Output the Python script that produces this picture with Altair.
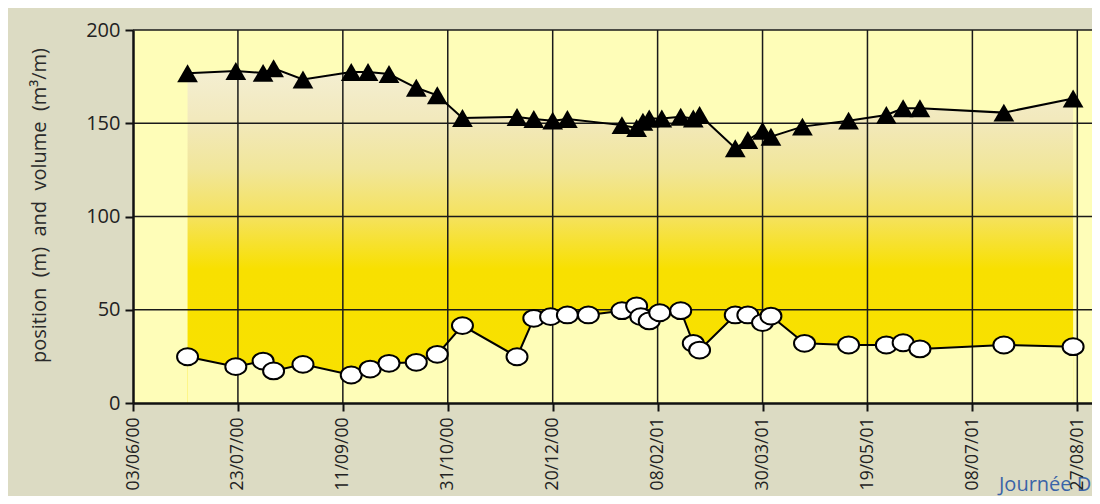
import altair as alt
import pandas as pd

# ---- data ----
tri_dates = ["2000-06-29", "2000-07-22", "2000-08-04", "2000-08-09", "2000-08-23",
             "2000-09-15", "2000-09-23", "2000-10-03", "2000-10-16", "2000-10-26",
             "2000-11-07", "2000-12-03", "2000-12-11", "2000-12-20", "2000-12-27",
             "2001-01-22", "2001-01-29", "2001-02-01", "2001-02-04", "2001-02-10",
             "2001-02-19", "2001-02-25", "2001-02-28", "2001-03-17", "2001-03-23",
             "2001-03-30", "2001-04-03", "2001-04-18", "2001-05-10", "2001-05-28",
             "2001-06-05", "2001-06-13", "2001-07-23", "2001-08-25"]
tri_vals = [176.8, 178.0, 177.0, 179.5, 173.5,
            177.5, 177.5, 176.4, 169.0, 165.0,
            152.8, 153.4, 152.3, 151.4, 152.3,
            149.0, 147.4, 150.8, 152.6, 152.6,
            153.5, 152.6, 154.4, 136.6, 141.0,
            146.0, 142.8, 148.2, 151.4, 154.4,
            158.0, 158.0, 155.7, 163.3]

circ_dates = ["2000-06-29", "2000-07-22", "2000-08-04", "2000-08-09", "2000-08-23",
              "2000-09-15", "2000-09-24", "2000-10-03", "2000-10-16", "2000-10-26",
              "2000-11-07", "2000-12-03", "2000-12-11", "2000-12-19", "2000-12-27",
              "2001-01-06", "2001-01-22", "2001-01-29", "2001-01-31", "2001-02-04",
              "2001-02-09", "2001-02-19", "2001-02-25", "2001-02-28", "2001-03-17",
              "2001-03-23", "2001-03-30", "2001-04-03", "2001-04-19", "2001-05-10",
              "2001-05-28", "2001-06-05", "2001-06-13", "2001-07-23", "2001-08-25"]
circ_vals = [24.8, 19.5, 22.5, 17.2, 20.7,
             15.0, 18.2, 21.3, 21.8, 26.1,
             41.5, 24.8, 45.4, 46.3, 47.2,
             47.2, 49.5, 52.0, 46.3, 44.0,
             48.4, 49.5, 32.0, 28.4, 47.2,
             47.2, 43.1, 46.6, 32.0, 31.1,
             31.1, 32.3, 29.0, 31.1, 30.2]

x_ticks = [(2000, 6, 3), (2000, 7, 23), (2000, 9, 11), (2000, 10, 31), (2000, 12, 20),
           (2001, 2, 8), (2001, 3, 30), (2001, 5, 19), (2001, 7, 8), (2001, 8, 27)]
y_ticks = [0, 50, 100, 150, 200]
x_domain = [(2000, 6, 3), (2001, 9, 3)]

NB = "\u00a0"
y_title = ("position" + NB * 2 + "(m)" + NB * 2 + "and" + NB * 2 + "volume"
           + NB * 2 + "(m\u00b3/m)")
footer = "Journée D"

# ---- tables ----
tri = pd.DataFrame({"date": [d + "T00:00:00" for d in tri_dates], "v": tri_vals})
circ = pd.DataFrame({"date": [d + "T00:00:00" for d in circ_dates], "v": circ_vals})
xgrid = pd.DataFrame({"date": ["%04d-%02d-%02dT00:00:00" % t for t in x_ticks[1:]]})
ygrid = pd.DataFrame({"v": y_ticks[1:]})

def dt(t):
    return alt.DateTime(year=t[0], month=t[1], date=t[2])

FONT = "Open Sans"
PLOT_BG = "#fefdb8"

xscale = alt.Scale(domain=[dt(t) for t in x_domain], nice=False)
yscale = alt.Scale(domain=[0, 200], nice=False)

xaxis = alt.Axis(values=[dt(t) for t in x_ticks], format="%d/%m/%y", labelAngle=-90,
                 grid=False, tickSize=8, tickWidth=2, tickColor="#111",
                 domainColor="#111", domainWidth=2.5, labelPadding=6,
                 labelFontSize=17.5, labelColor="#222", labelFont=FONT,
                 zindex=1, title=None, labelOverlap=False)
yaxis = alt.Axis(values=y_ticks, grid=False, tickSize=8, tickWidth=2, tickColor="#111",
                 domainColor="#111", domainWidth=2.5, labelPadding=5,
                 labelFontSize=20, labelColor="#222", labelFont=FONT, zindex=1,
                 title=y_title, titleFont=FONT, titleFontSize=20,
                 titleFontWeight="normal", titleColor="#2a2a2a",
                 titleX=-84, titleY=175, titleAngle=270, titleBaseline="bottom")

X = alt.X("date:T", scale=xscale, axis=xaxis)
Y = alt.Y("v:Q", scale=yscale, axis=yaxis)

grad = alt.Gradient(
    gradient="linear", x1=0, y1=0, x2=0, y2=1,
    stops=[alt.GradientStop(offset=0.0, color="#f4efd3"),
           alt.GradientStop(offset=0.15, color="#f2e9bd"),
           alt.GradientStop(offset=0.30, color="#f1e69a"),
           alt.GradientStop(offset=0.45, color="#f5e25a"),
           alt.GradientStop(offset=0.60, color="#f8e000"),
           alt.GradientStop(offset=1.0, color="#f8e100")])

area_top = alt.Chart(tri).mark_area(color=grad, interpolate="linear").encode(x=X, y=Y)
area_bot = alt.Chart(circ).mark_area(color=PLOT_BG, interpolate="linear").encode(x=X, y=Y)

vgrid = alt.Chart(xgrid).mark_rule(color="#1a1a1a", strokeWidth=1.5).encode(x=X)
hgrid = alt.Chart(ygrid).mark_rule(color="#1a1a1a", strokeWidth=1.5).encode(y=Y)

tri_line = alt.Chart(tri).mark_line(color="#000", strokeWidth=2).encode(x=X, y=Y)
circ_line = alt.Chart(circ).mark_line(color="#000", strokeWidth=2).encode(x=X, y=Y)

ellipse = ("M-1,0 C-1,-0.4418 -0.5523,-0.8 0,-0.8 C0.5523,-0.8 1,-0.4418 1,0 "
           "C1,0.4418 0.5523,0.8 0,0.8 C-0.5523,0.8 -1,0.4418 -1,0 Z")

tri_pts = alt.Chart(tri).mark_point(shape="triangle-up", filled=True, color="#000",
                                    size=430, opacity=1).encode(x=X, y=Y)
circ_pts = alt.Chart(circ).mark_point(shape=ellipse, filled=True, fill="#ffffff",
                                      stroke="#000", strokeWidth=2, size=441,
                                      opacity=1).encode(x=X, y=Y)

foot = alt.Chart(pd.DataFrame({"t": [footer]})).mark_text(
    align="left", baseline="alphabetic", font=FONT, fontSize=20, color="#3a64a8"
).encode(text="t:N", x=alt.value(866), y=alt.value(461))

chart = alt.layer(area_top, area_bot, vgrid, hgrid, tri_line, circ_line,
                  tri_pts, circ_pts, foot).properties(
    width=959, height=373,
    autosize=alt.AutoSizeParams(type="none"),
    padding={"left": 125, "top": 22, "right": 0, "bottom": 93},
    background="#dcdbc3",
).configure_view(fill=PLOT_BG, stroke=None)

chart.save("out.html", embed_options={"renderer": "svg", "actions": False})
